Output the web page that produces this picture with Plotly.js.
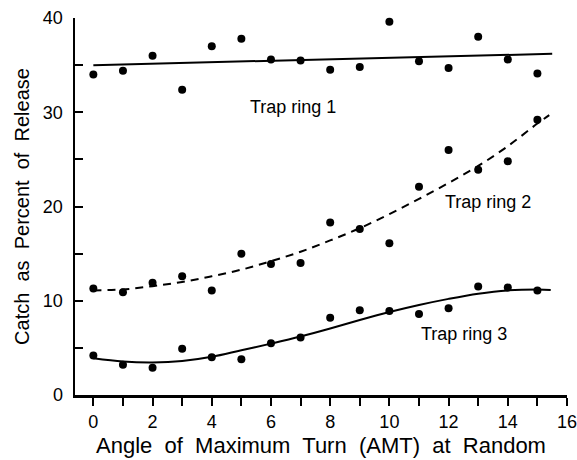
<!DOCTYPE html>
<html>
<head>
<meta charset="utf-8">
<script src="https://cdn.plot.ly/plotly-3.0.1.min.js"></script>
<style>html,body{margin:0;padding:0;background:#fff;}#chart{width:577px;height:460px;}</style>
</head>
<body>
<div id="chart"></div>
<script>
// Observed data (angle of maximum turn, catch %)
var amt = [0,1,2,3,4,5,6,7,8,9,10,11,12,13,14,15];
var ring1 = [34.0,34.4,36.0,32.4,37.0,37.8,35.6,35.5,34.5,34.8,39.6,35.4,34.7,38.0,35.6,34.1];
var ring2 = [11.3,10.9,11.9,12.6,11.1,15.0,13.9,14.0,18.3,17.6,16.1,22.1,26.0,23.9,24.8,29.2];
var ring3 = [4.2,3.2,2.9,4.9,4.0,3.8,5.5,6.1,8.2,9.0,8.9,8.6,9.2,11.5,11.4,11.1];

// Fitted curves
var fit1X = [0,15.5];
var fit1Y = [35.0,36.2];
var fit2X = [0,1,2,3,4,5,6,7,8,9,10,11,12,13,14,15,15.4];
var fit2Y = [11.1,11.2,11.55,12.0,12.6,13.3,14.2,15.2,16.4,17.7,19.2,20.8,22.5,24.3,26.4,28.8,29.7];
var fit3X = [0,1,2,3,4,5,6,7,8,9,10,11,12,13,14,15,15.45];
var fit3Y = [3.9,3.55,3.45,3.6,4.05,4.75,5.45,6.2,7.05,7.95,8.8,9.55,10.2,10.75,11.1,11.2,11.15];

var labelText = ['Trap ring 1','Trap ring 2','Trap ring 3'];
var labelX = [6.73,13.32,12.52];
var labelY = [30.6,20.5,6.5];

var xTickVals = [0,1,2,3,4,5,6,7,8,9,10,11,12,13,14,15,16];
var xTickText = ['0','','2','','4','','6','','8','','10','','12','','14','','16'];
var yTickVals = [0,5,10,15,20,25,30,35,40];
var yTickText = ['0','','10','','20','','30','','40'];

var black = '#000';
var pts = function(y){ return {x: amt, y: y, mode: 'markers', type: 'scatter',
  marker: {color: black, size: 8}, hoverinfo: 'skip', showlegend: false, cliponaxis: false}; };
var fit = function(x, y, dash){ return {x: x, y: y, mode: 'lines', type: 'scatter',
  line: {color: black, width: 2, shape: 'spline', smoothing: 1, dash: dash}, hoverinfo: 'skip', showlegend: false}; };

var data = [
  fit(fit1X, fit1Y, 'solid'),
  fit(fit2X, fit2Y, '8px,6px'),
  fit(fit3X, fit3Y, 'solid'),
  pts(ring1), pts(ring2), pts(ring3)
];

var annotations = labelText.map(function(t, i){
  return {x: labelX[i], y: labelY[i], text: t, showarrow: false, xref: 'x', yref: 'y',
    font: {family: 'Liberation Sans, Arial, sans-serif', size: 18, color: black}};
});

var layout = {
  width: 577, height: 460,
  margin: {l: 75, r: 10, t: 18, b: 65},
  paper_bgcolor: '#fff', plot_bgcolor: '#fff',
  font: {family: 'Liberation Sans, Arial, sans-serif', color: black},
  xaxis: {
    range: [-0.62, 16], showgrid: false, zeroline: false,
    showline: true, linecolor: black, linewidth: 2.5,
    ticks: 'outside', ticklen: 8, tickwidth: 2, tickcolor: black,
    tickmode: 'array', tickvals: xTickVals, ticktext: xTickText,
    tickfont: {size: 18}, ticklabelstandoff: 1, ticklabeloverflow: 'allow',
    title: {text: 'Angle  of  Maximum  Turn  (AMT)  at  Random', font: {size: 22}, standoff: 7}
  },
  yaxis: {
    range: [0, 40], showgrid: false, zeroline: false,
    showline: true, linecolor: black, linewidth: 2.5,
    ticks: 'inside', ticklen: 8, tickwidth: 2, tickcolor: black,
    tickmode: 'array', tickvals: yTickVals, ticktext: yTickText,
    tickfont: {size: 18}, ticklabelstandoff: 6, ticklabeloverflow: 'allow',
    title: {text: 'Catch  as  Percent  of  Release', font: {size: 20}, standoff: 8}
  },
  annotations: annotations
};

Plotly.newPlot('chart', data, layout, {staticPlot: true, displayModeBar: false});
</script>
</body>
</html>
